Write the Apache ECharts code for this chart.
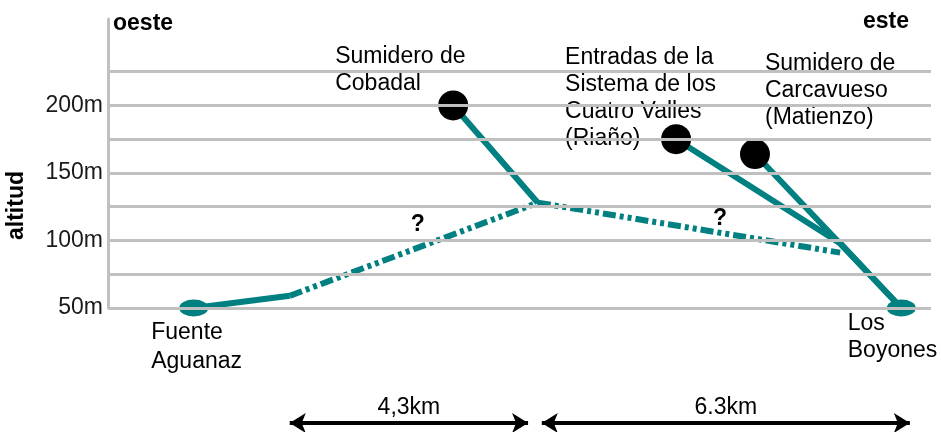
<!DOCTYPE html>
<html><head><meta charset="utf-8">
<script src="https://cdn.jsdelivr.net/npm/echarts@6/dist/echarts.min.js"></script>
<style>html,body{margin:0;padding:0;background:#fff}#c{width:941px;height:432px}</style>
</head><body><div id="c"></div>
<script>
// ---- data: [horizontal position (km from west, approx), altitude (m)] ----
const tramoAguanaz      = [[1.50, 50], [3.18, 59]];          // known conduit
const tramoOesteDudoso  = [[3.18, 59], [7.52, 128]];         // uncertain (?)
const tramoCobadal      = [[6.04, 200], [7.52, 128]];
const tramoEsteDudoso   = [[7.52, 128], [12.81, 91]];        // uncertain (?)
const tramoRiano        = [[9.94, 175], [12.81, 98], [13.88, 50]];
const tramoCarcavueso   = [[11.32, 164], [13.88, 50]];
const interrogantes     = [[5.42, 111.5], [10.71, 116]];
const distLabels = ['4,3km', '6.3km'];
const distFrom   = [3.18, 7.59];
const distTo     = [7.35, 14.03];
const yTickLabels = [50, 100, 150, 200];
const gridValues  = [50, 75, 100, 125, 150, 175, 200, 225];
const nombres = {
  aguanaz: 'Fuente\nAguanaz',
  cobadal: 'Sumidero de\nCobadal',
  riano: 'Entradas de la\nSistema de los\nCuatro Valles\n(Riaño)',
  carcavueso: 'Sumidero de\nCarcavueso\n(Matienzo)',
  boyones: 'Los\nBoyones'
};

const FONT = 'Liberation Sans, Arial, Helvetica, sans-serif';
const TEAL = '#008080';
const DASH = [13, 4, 4, 4, 4, 4];
const nameLabel = (text, pos, lh) => ({
  show: true, formatter: text, position: pos, align: 'left', verticalAlign: 'top',
  fontSize: 23, lineHeight: lh || 27, color: '#000', fontFamily: FONT
});
const qMark = c => ({
  coord: c, symbol: 'rect', symbolSize: 1, itemStyle: {color: 'rgba(0,0,0,0)'},
  label: {show: true, formatter: '?', position: 'inside', fontSize: 23, fontWeight: 'bold', color: '#000', fontFamily: FONT}
});
const baseLine = (data, dashed) => ({
  type: 'line', xAxisIndex: 0, yAxisIndex: 0, z: 3, silent: true,
  data: data, showSymbol: true,
  symbol: 'none',
  lineStyle: {color: TEAL, width: 6, type: dashed ? DASH : 'solid'},
  itemStyle: {color: TEAL},
  label: {show: false}
});

const s1 = baseLine([
  {value: tramoAguanaz[0], symbol: 'circle', symbolSize: [29, 17], itemStyle: {color: TEAL},
   label: nameLabel(nombres.aguanaz, [-28, 18.5], 29)},
  {value: tramoAguanaz[1], symbol: 'none'}
], false);
const s2 = baseLine(tramoOesteDudoso, true);
s2.markPoint = {silent: true, data: [qMark(interrogantes[0])]};
const s3 = baseLine([
  {value: tramoCobadal[0], symbol: 'circle', symbolSize: 30, itemStyle: {color: '#000'},
   label: nameLabel(nombres.cobadal, [-103, -47])},
  {value: tramoCobadal[1], symbol: 'none'}
], false);
const s4 = baseLine(tramoEsteDudoso, true);
s4.markPoint = {silent: true, data: [qMark(interrogantes[1])]};
const s5 = baseLine([
  {value: tramoRiano[0], symbol: 'circle', symbolSize: 30, itemStyle: {color: '#000'},
   label: nameLabel(nombres.riano, [-96, -80])},
  {value: tramoRiano[1], symbol: 'none'},
  {value: tramoRiano[2], symbol: 'none'}
], false);
const s6 = baseLine([
  {value: tramoCarcavueso[0], symbol: 'circle', symbolSize: 30, itemStyle: {color: '#000'},
   label: nameLabel(nombres.carcavueso, [25, -89])},
  {value: tramoCarcavueso[1], symbol: 'circle', symbolSize: [29, 17], itemStyle: {color: TEAL},
   label: nameLabel(nombres.boyones, [-39, 10.5])}
], false);

const gridSeries = {
  type: 'line', xAxisIndex: 0, yAxisIndex: 0, z: 1, silent: true, data: [],
  markLine: {
    silent: true, symbol: 'none', label: {show: false},
    lineStyle: {color: '#c0c0c0', width: 3, type: 'solid'},
    data: gridValues.map(v => ({yAxis: v}))
  }
};
const arrowSeries = {
  type: 'line', xAxisIndex: 1, yAxisIndex: 1, z: 3, silent: true, data: [],
  markLine: {
    silent: true, symbol: ['arrow', 'arrow'], symbolSize: [15, 16],
    lineStyle: {color: '#000', width: 4, type: 'solid'},
    label: {show: true, position: 'insideMiddleTop', formatter: '{b}', distance: 4,
            fontSize: 23, color: '#000', fontFamily: FONT},
    data: distLabels.map((l, i) => [{name: l, coord: [distFrom[i], 0]}, {coord: [distTo[i], 0]}])
  }
};

const chart = echarts.init(document.getElementById('c'), null, {renderer: 'canvas'});
chart.setOption({
  animation: false,
  backgroundColor: '#fff',
  textStyle: {fontFamily: FONT},
  grid: [
    {left: 108, right: 10, top: 19, bottom: 124, outerBoundsMode: 'none', containLabel: false},
    {left: 108, right: 10, top: 413, height: 20, outerBoundsMode: 'none', containLabel: false}
  ],
  xAxis: [
    {gridIndex: 0, type: 'value', min: 0, max: 14.4, show: false},
    {gridIndex: 1, type: 'value', min: 0, max: 14.4, show: false}
  ],
  yAxis: [
    {gridIndex: 0, type: 'value', min: 50, max: 264, interval: 25,
     axisLine: {show: true, onZero: false, lineStyle: {color: '#c0c0c0', width: 3}},
     axisTick: {show: false}, splitLine: {show: false},
     axisLabel: {show: true, formatter: v => yTickLabels.includes(v) ? v + 'm' : '',
                 fontSize: 23, color: '#1a1a1a', fontFamily: FONT, margin: 5,
                 verticalAlign: 'middle', padding: [0, 0, 6, 0]},
     name: 'altitud', nameLocation: 'middle', nameRotate: 90, nameGap: 80,
     nameTextStyle: {fontSize: 23, fontWeight: 'bold', color: '#000', fontFamily: FONT, padding: [0, 84, 0, 0]}
    },
    {gridIndex: 1, type: 'value', min: -1, max: 1, show: false}
  ],
  graphic: [
    {type: 'text', left: 113, top: 12, silent: true,
     style: {text: 'oeste', font: 'bold 23px ' + FONT, fill: '#000'}},
    {type: 'text', left: 863, top: 10, silent: true,
     style: {text: 'este', font: 'bold 23px ' + FONT, fill: '#000'}}
  ],
  series: [gridSeries, s1, s2, s3, s4, s5, s6, arrowSeries]
});
</script></body></html>
